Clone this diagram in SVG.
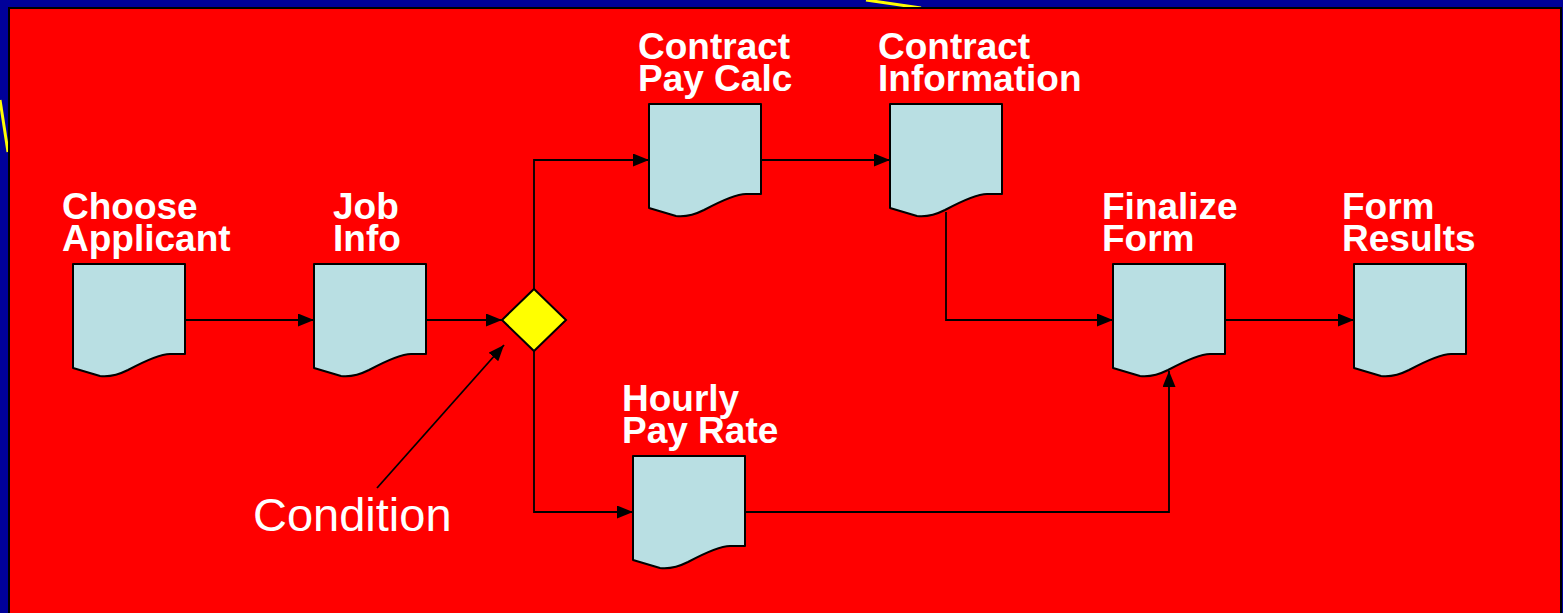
<svg xmlns="http://www.w3.org/2000/svg" width="1563" height="613" viewBox="0 0 1563 613">
<defs>
<style>
.lbl{font-family:"Liberation Sans",Arial,sans-serif;font-weight:bold;font-size:37px;fill:#ffffff}
.cond{font-family:"Liberation Sans",Arial,sans-serif;font-size:47px;fill:#ffffff}
.doc{fill:#b9dfe3;stroke:#000;stroke-width:2;stroke-linejoin:round}
.con{fill:none;stroke:#000;stroke-width:1.8}
</style>
<marker id="ah" viewBox="0 0 16 13" refX="16" refY="6.5" markerWidth="16" markerHeight="13" markerUnits="userSpaceOnUse" orient="auto">
<path d="M0,0 L16,6.5 L0,13 Z" fill="#000"/>
</marker>
<path id="docshape" d="M0,0 H112 V90 H97 C88,90 70,98 55,106 C45,111 35,113 27,112 L0,104 Z"/>
</defs>
<rect x="0" y="0" width="1563" height="613" fill="#000099"/>
<line x1="866" y1="0" x2="921" y2="8" stroke="#ffff00" stroke-width="3"/>
<line x1="0" y1="100" x2="8" y2="152" stroke="#ffff00" stroke-width="3"/>
<rect x="9" y="8" width="1552" height="620" fill="#ff0000" stroke="#000" stroke-width="2"/>

<g id="connectors">
<line class="con" x1="185" y1="320" x2="314" y2="320" marker-end="url(#ah)"/>
<line class="con" x1="426" y1="320" x2="502" y2="320" marker-end="url(#ah)"/>
<polyline class="con" points="534,289 534,160 649,160" marker-end="url(#ah)"/>
<line class="con" x1="762" y1="160" x2="890" y2="160" marker-end="url(#ah)"/>
<polyline class="con" points="946,212 946,320 1113,320" marker-end="url(#ah)"/>
<polyline class="con" points="534,351 534,512 633,512" marker-end="url(#ah)"/>
<polyline class="con" points="745,512 1169,512 1169,371" marker-end="url(#ah)"/>
<line class="con" x1="1225" y1="320" x2="1354" y2="320" marker-end="url(#ah)"/>
<line class="con" x1="377" y1="488" x2="504" y2="345" marker-end="url(#ah)"/>
</g>

<g id="choose-applicant">
<use href="#docshape" class="doc" x="73" y="264"/>
<text class="lbl" x="62" y="219">Choose<tspan x="62" dy="32">Applicant</tspan></text>
</g>
<g id="job-info">
<use href="#docshape" class="doc" x="314" y="264"/>
<text class="lbl" x="333" y="219">Job<tspan x="333" dy="32">Info</tspan></text>
</g>
<g id="condition">
<polygon points="534,289 566,320 534,351 502,320" fill="#ffff00" stroke="#000" stroke-width="2"/>
<text class="cond" x="253" y="531">Condition</text>
</g>
<g id="contract-pay-calc">
<use href="#docshape" class="doc" x="649" y="104"/>
<text class="lbl" x="638" y="59">Contract<tspan x="638" dy="32">Pay Calc</tspan></text>
</g>
<g id="contract-information">
<use href="#docshape" class="doc" x="890" y="104"/>
<text class="lbl" x="878" y="59">Contract<tspan x="878" dy="32">Information</tspan></text>
</g>
<g id="hourly-pay-rate">
<use href="#docshape" class="doc" x="633" y="456"/>
<text class="lbl" x="622" y="411">Hourly<tspan x="622" dy="32">Pay Rate</tspan></text>
</g>
<g id="finalize-form">
<use href="#docshape" class="doc" x="1113" y="264"/>
<text class="lbl" x="1102" y="219">Finalize<tspan x="1102" dy="32">Form</tspan></text>
</g>
<g id="form-results">
<use href="#docshape" class="doc" x="1354" y="264"/>
<text class="lbl" x="1342" y="219">Form<tspan x="1342" dy="32">Results</tspan></text>
</g>
</svg>
